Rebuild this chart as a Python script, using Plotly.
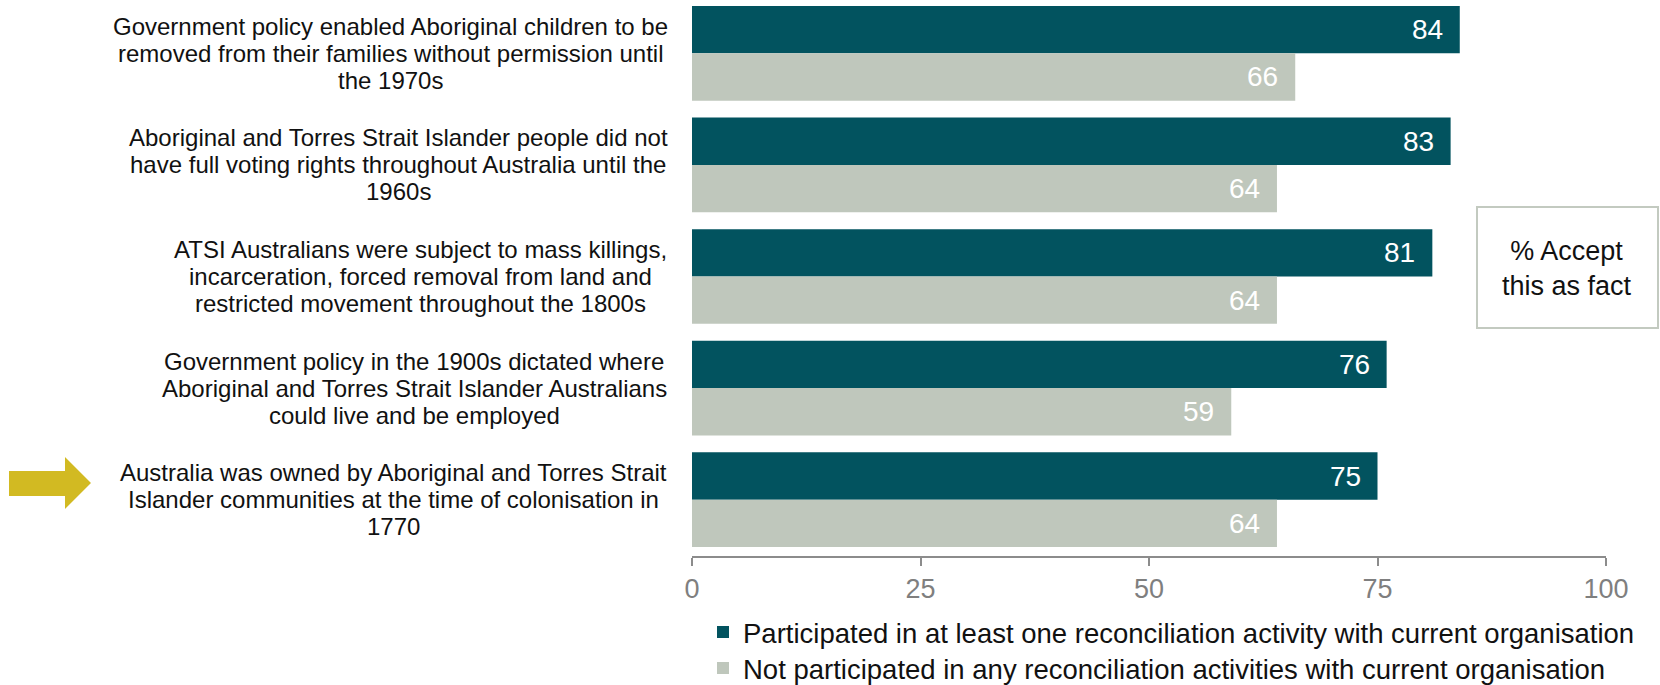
import plotly.graph_objects as go

categories = [
    ["Government policy enabled Aboriginal children to be",
     "removed from their families without permission until",
     "the 1970s"],
    ["Aboriginal and Torres Strait Islander people did not",
     "have full voting rights throughout Australia until the",
     "1960s"],
    ["ATSI Australians were subject to mass killings,",
     "incarceration, forced removal from land and",
     "restricted movement throughout the 1800s"],
    ["Government policy in the 1900s dictated where",
     "Aboriginal and Torres Strait Islander Australians",
     "could live and be employed"],
    ["Australia was owned by Aboriginal and Torres Strait",
     "Islander communities at the time of colonisation in",
     "1770"],
]
participated = [84, 83, 81, 76, 75]
not_participated = [66, 64, 64, 59, 64]
series_names = [
    "Participated in at least one reconciliation activity with current organisation",
    "Not participated in any reconciliation activities with current organisation",
]
x_ticks = [0, 25, 50, 75, 100]

DARK = "#02535F"
LIGHT = "#BFC7BC"
FONT = "Liberation Sans, Arial, sans-serif"

W, H = 1660, 685
L, R, T, B = 692, 54, 0, 129
PW, PH = W - L - R, H - T - B


def px(x):
    return (x - L) / PW


def py(y):
    return (H - B - y) / PH


# Arial / Liberation Sans advance widths (per 1000 em) for centring wrapped labels
_W = {" ": 278, ",": 278, ".": 278, "%": 889}
_W.update({d: 556 for d in "0123456789"})
_W.update(dict(zip("ABCDEFGHIJKLMNOPQRSTUVWXYZ",
                   [667, 667, 722, 722, 667, 611, 778, 722, 278, 500, 667, 556, 833,
                    722, 778, 667, 778, 722, 667, 611, 722, 667, 944, 667, 667, 611])))
_W.update(dict(zip("abcdefghijklmnopqrstuvwxyz",
                   [556, 556, 500, 556, 556, 278, 556, 556, 222, 222, 500, 222, 833,
                    556, 556, 556, 556, 333, 500, 278, 556, 500, 722, 500, 500, 500])))


def text_width(s, fs):
    return sum(_W.get(c, 556) for c in s) * fs / 1000.0


ypos = list(range(len(categories)))
bw = 0.424
CAT_FS = 24
LINE_GAP = 27
LABEL_RIGHT = 669

fig = go.Figure()
fig.add_trace(go.Bar(
    y=ypos, x=participated, orientation="h", name=series_names[0],
    marker=dict(color=DARK, line=dict(width=0)), width=bw, offset=-bw,
    legend="legend", hoverinfo="skip",
))
fig.add_trace(go.Bar(
    y=ypos, x=not_participated, orientation="h", name=series_names[1],
    marker=dict(color=LIGHT, line=dict(width=0)), width=bw, offset=0,
    legend="legend2", hoverinfo="skip",
))

annotations = []
for i, lines in enumerate(categories):
    n = len(lines)
    block_w = max(text_width(ln, CAT_FS) for ln in lines)
    cx = LABEL_RIGHT - block_w / 2
    for k, ln in enumerate(lines):
        shift = -(k - (n - 1) / 2) * LINE_GAP
        annotations.append(dict(
            x=px(cx), xref="paper", xanchor="center", y=i, yref="y", yanchor="middle",
            yshift=shift, text=ln, showarrow=False, borderpad=0,
            font=dict(family=FONT, size=CAT_FS, color="#111111"),
        ))
    annotations.append(dict(
        x=participated[i], xref="x", xanchor="right", xshift=-15,
        y=i - bw / 2, yref="y", yanchor="middle",
        text=str(participated[i]), showarrow=False,
        font=dict(family=FONT, size=28, color="white"),
    ))
    annotations.append(dict(
        x=not_participated[i], xref="x", xanchor="right", xshift=-15,
        y=i + bw / 2, yref="y", yanchor="middle",
        text=str(not_participated[i]), showarrow=False,
        font=dict(family=FONT, size=28, color="white"),
    ))

annotations.append(dict(
    x=px(1567), y=py(268), xref="paper", yref="paper",
    xanchor="center", yanchor="middle", align="center",
    text="% Accept<br>this as fact", showarrow=False,
    font=dict(family=FONT, size=27, color="#111111"),
))

shapes = [
    dict(type="rect", xref="paper", yref="paper",
         x0=px(1477), x1=px(1658), y0=py(207), y1=py(328),
         line=dict(color="#C3CAC0", width=2), fillcolor="white"),
]
arrow_pts = [(9, 471), (65, 471), (65, 457), (91, 483), (65, 509), (65, 496), (9, 496)]
path = "M " + " L ".join(f"{px(a):.5f},{py(b):.5f}" for a, b in arrow_pts) + " Z"
shapes.append(dict(type="path", xref="paper", yref="paper", path=path,
                   fillcolor="#D2BA22", line=dict(width=0)))

fig.update_layout(
    width=W, height=H,
    margin=dict(l=L, r=R, t=T, b=B, pad=0, autoexpand=False),
    paper_bgcolor="white", plot_bgcolor="white",
    barmode="overlay",
    showlegend=True,
    font=dict(family=FONT),
    xaxis=dict(
        range=[0, 100], tickvals=x_ticks, ticktext=[str(v) for v in x_ticks],
        showgrid=False, zeroline=False, showline=True, linecolor="#8C8C8C", linewidth=2,
        ticks="outside", ticklen=8, tickwidth=2, tickcolor="#8C8C8C",
        tickfont=dict(family=FONT, size=27, color="#7F7F7F"),
        fixedrange=True,
    ),
    yaxis=dict(
        range=[4.505, -0.478], showticklabels=False, showgrid=False,
        zeroline=False, showline=False, ticks="", fixedrange=True,
    ),
    legend=dict(x=px(703), y=py(632), xanchor="left", yanchor="middle",
                font=dict(family=FONT, size=27.5, color="#111111"),
                bgcolor="rgba(0,0,0,0)", borderwidth=0),
    legend2=dict(x=px(703), y=py(668), xanchor="left", yanchor="middle",
                 font=dict(family=FONT, size=27.5, color="#111111"),
                 bgcolor="rgba(0,0,0,0)", borderwidth=0),
    annotations=annotations,
    shapes=shapes,
)

fig.write_html("out.html", config={"displayModeBar": False})
